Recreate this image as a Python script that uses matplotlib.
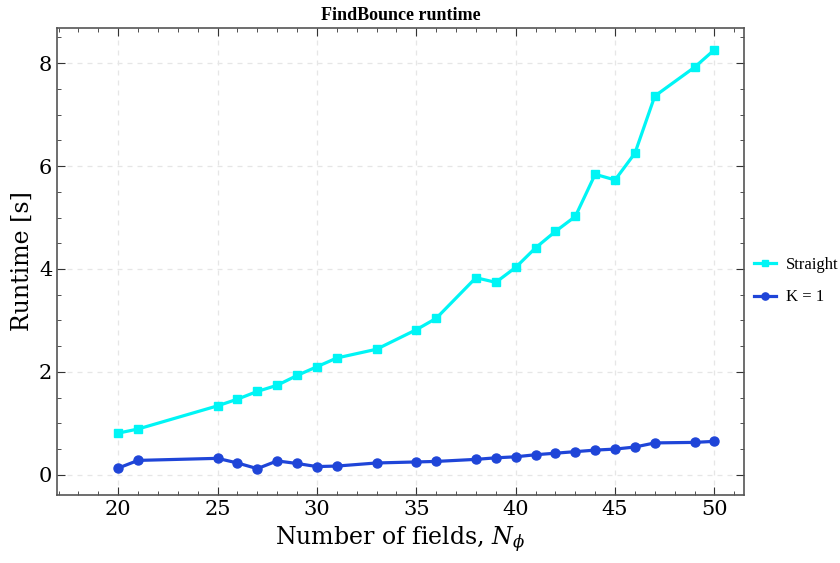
import matplotlib
matplotlib.use("Agg")
import matplotlib.pyplot as plt
from matplotlib.ticker import MultipleLocator

n_fields = [20, 21, 25, 26, 27, 28, 29, 30, 31, 33, 35, 36, 38, 39, 40, 41, 42, 43, 44, 45, 46, 47, 49, 50]
straight = [0.81, 0.89, 1.34, 1.47, 1.62, 1.74, 1.93, 2.10, 2.27, 2.44, 2.82, 3.04, 3.83, 3.74, 4.03, 4.41, 4.73, 5.02, 5.84, 5.73, 6.25, 7.36, 7.92, 8.26]
k1 = [0.13, 0.28, 0.32, 0.23, 0.12, 0.27, 0.22, 0.16, 0.17, 0.23, 0.25, 0.26, 0.30, 0.33, 0.35, 0.39, 0.42, 0.45, 0.48, 0.50, 0.54, 0.62, 0.63, 0.65]

plt.rcParams['font.family'] = ['DejaVu Serif']
plt.rcParams['mathtext.fontset'] = 'dejavuserif'

fig = plt.figure(figsize=(8.4, 5.63), dpi=100)
ax = fig.add_axes([0.068, 0.121, 0.818, 0.829])

ax.plot(n_fields, straight, color='#00F5F5', lw=2.3, marker='s', ms=6, label='Straight')
ax.plot(n_fields, k1, color='#1F45D8', lw=2.3, marker='o', ms=6.5, label='K = 1')

ax.set_xlim(16.93, 51.5)
ax.set_ylim(-0.39, 8.68)
ax.xaxis.set_major_locator(MultipleLocator(5))
ax.xaxis.set_minor_locator(MultipleLocator(1))
ax.yaxis.set_major_locator(MultipleLocator(2))
ax.yaxis.set_minor_locator(MultipleLocator(0.5))
ax.tick_params(which='both', direction='in', top=True, right=True, color='#333333')
ax.tick_params(which='major', length=6, labelsize=15)
ax.tick_params(which='minor', length=3)
ax.grid(True, which='major', ls=(0, (4, 4)), color='#e6e6e6', lw=0.9)
for s in ax.spines.values():
    s.set_color('#555555')
    s.set_linewidth(1.2)

ax.set_title('FindBounce runtime', fontsize=13, fontweight='bold', pad=6,
             family=['Liberation Serif'])
ax.set_xlabel(r'Number of fields, $N_\phi$', fontsize=17)
ax.set_ylabel('Runtime [s]', fontsize=17)

ax.legend(loc='center left', bbox_to_anchor=(0.997, 0.458), frameon=False,
          prop={'family': 'Liberation Serif', 'size': 12},
          handlelength=1.3, handletextpad=0.6, labelspacing=1.0,
          borderaxespad=0.3, markerscale=0.8)

fig.savefig('out.png', dpi=100)
